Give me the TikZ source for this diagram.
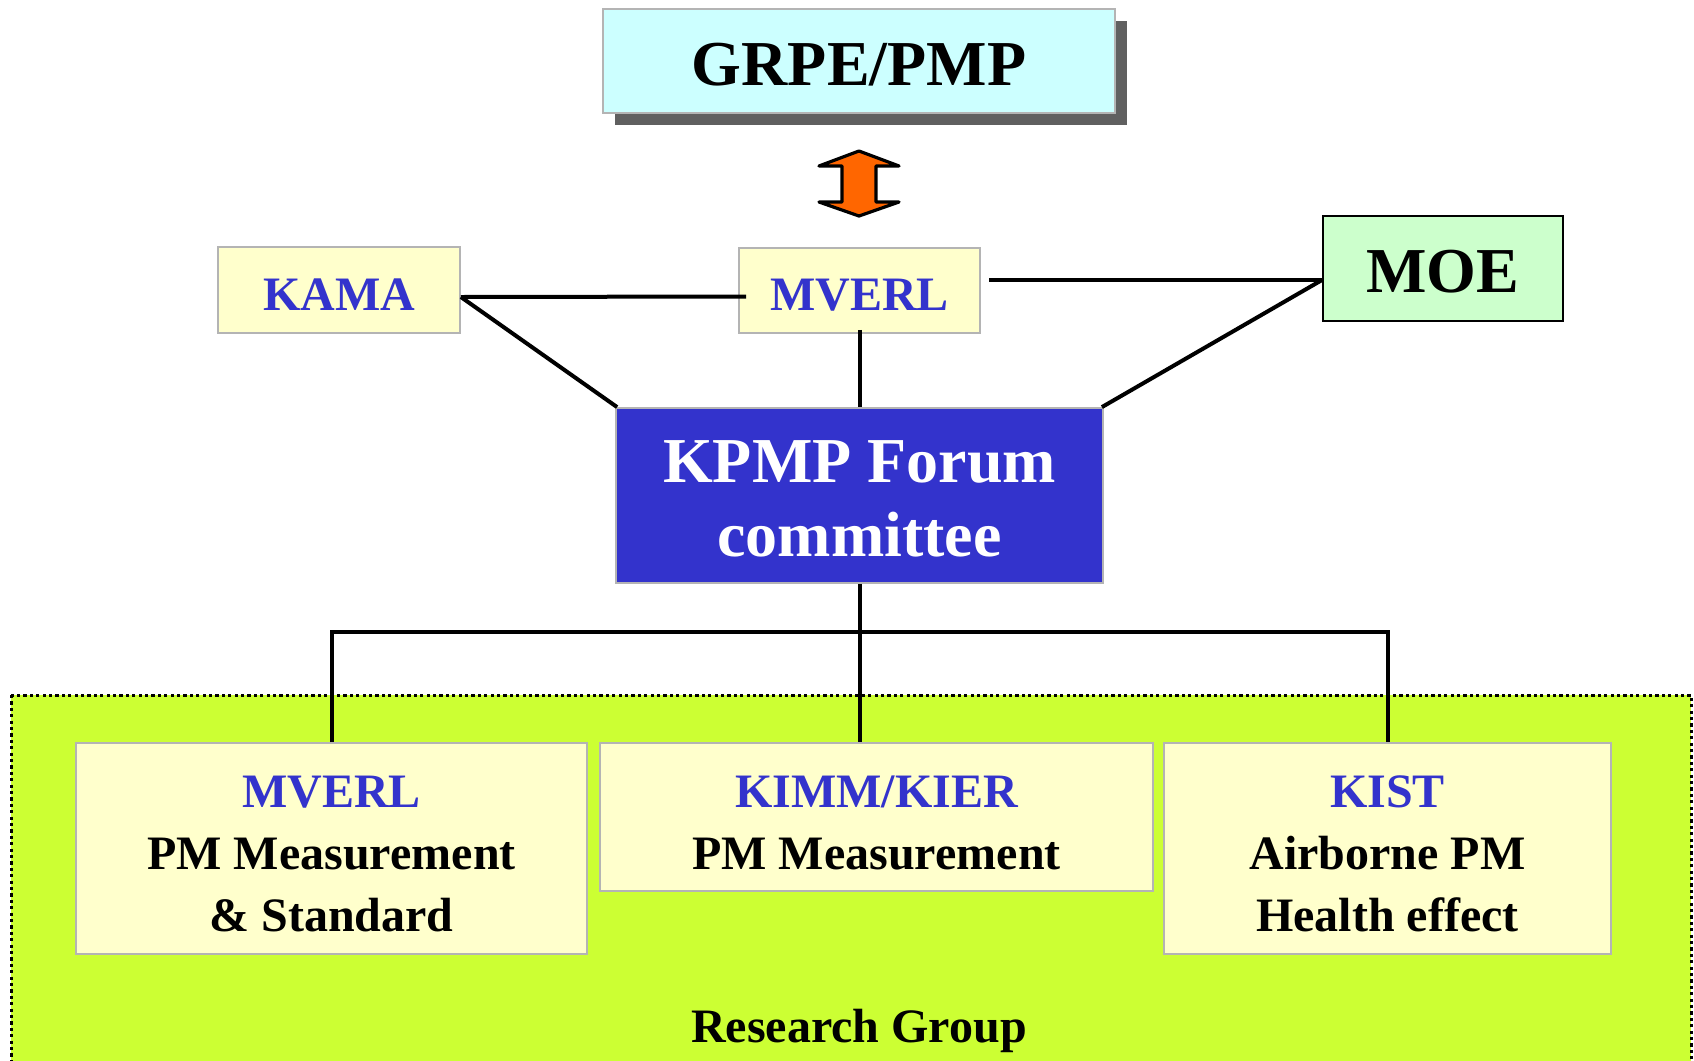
\documentclass[tikz,border=0pt]{standalone}
\usepackage{fontspec}
\setmainfont{Liberation Serif}
\usetikzlibrary{shadows}
\definecolor{cyanbox}{HTML}{CCFFFF}
\definecolor{ylbox}{HTML}{FFFFCC}
\definecolor{grbox}{HTML}{CCFFCC}
\definecolor{limebg}{HTML}{CCFF33}
\definecolor{bluebox}{HTML}{3333CC}
\definecolor{bluetxt}{HTML}{3333CC}
\definecolor{orangearr}{HTML}{FF6600}
\definecolor{bordergray}{HTML}{B4B4B4}
\definecolor{shadowgray}{HTML}{606060}
% lower a first line by half of #1 inside a centred node
\newcommand{\lowerfirst}[2]{\raisebox{0pt}[\dimexpr\height+#1\relax]{#2}}
\begin{document}
\begin{tikzpicture}[x=0.5pt,y=-0.5pt,
  boxbase/.style={rectangle,inner sep=0pt,align=center,draw=bordergray,line width=0.9pt},
  bigfont/.style={font=\fontsize{32}{37}\selectfont\bfseries},
  smallfont/.style={font=\fontsize{24}{31}\selectfont\bfseries},
  conn/.style={line width=2pt,black},
  bluet/.style={text=bluetxt}]
\clip (0,0) rectangle (1694,1061);
\fill[white] (0,0) rectangle (1694,1061);

% research group background
\draw[fill=limebg,line width=1.5pt,dash pattern=on 1.6pt off 1.6pt] (11,695) rectangle (1691,1090);

% top box with shadow
\node[boxbase,bigfont,fill=cyanbox,minimum width=256pt,minimum height=52pt,
  drop shadow={shadow xshift=6pt,shadow yshift=-6pt,fill=shadowgray,opacity=1}]
  (grpe) at (859,61) {\lowerfirst{4pt}{GRPE/PMP}};

% double arrow
\draw[fill=orangearr,line width=1.6pt,line join=round]
  (859,151) -- (899,166) -- (876,166) -- (876,202) -- (899,202) -- (859,216)
  -- (819,202) -- (842,202) -- (842,166) -- (819,166) -- cycle;

% second row
\node[boxbase,smallfont,bluet,fill=ylbox,minimum width=121pt,minimum height=43pt] (kama) at (339,290) {\lowerfirst{4.5pt}{KAMA}};
\node[boxbase,smallfont,bluet,fill=ylbox,minimum width=120.5pt,minimum height=42.5pt] (mverlt) at (859.5,290.5) {\lowerfirst{4.5pt}{MVERL}};
\node[boxbase,bigfont,fill=grbox,draw=black,line width=1pt,minimum width=120pt,minimum height=52.5pt] (moe) at (1443,268.5) {\lowerfirst{3.5pt}{MOE}};

% forum committee
\node[boxbase,bigfont,text=white,fill=bluebox,minimum width=243.5pt,minimum height=87.5pt] (kpmp) at (859.5,495.5) {\lowerfirst{3pt}{KPMP Forum}\\committee};

% bottom boxes
\node[boxbase,smallfont,fill=ylbox,minimum width=255.5pt,minimum height=105.5pt] (left) at (331.5,848.5)
  {\lowerfirst{5.5pt}{\textcolor{bluetxt}{MVERL}}\\PM Measurement\\\& Standard};
\node[boxbase,smallfont,fill=ylbox,minimum width=276.5pt,minimum height=74pt] (mid) at (876.5,817)
  {\lowerfirst{5.5pt}{\textcolor{bluetxt}{KIMM/KIER}}\\PM Measurement};
\node[boxbase,smallfont,fill=ylbox,minimum width=223.5pt,minimum height=105.5pt] (right) at (1387.5,848.5)
  {\lowerfirst{5.5pt}{\textcolor{bluetxt}{KIST}}\\Airborne PM\\Health effect};

\node[smallfont,anchor=base] (rg) at (859,1042) {Research Group};

% connectors
\draw[conn] ([yshift=-3.5pt]kama.east) -- ([yshift=-3pt,xshift=4pt]mverlt.west);
\draw[conn] ([yshift=-3.5pt]kama.east) -- ([xshift=1pt]kpmp.north west);
\draw[conn] ([yshift=2pt]mverlt.south) -- (kpmp.north);
\draw[conn] ([yshift=-5.75pt]moe.west) -- ([xshift=4pt,yshift=-5.75pt]moe.west -| mverlt.east);
\draw[conn] ([yshift=-5.75pt]moe.west) -- ([xshift=-1pt]kpmp.north east);
\coordinate (bus) at (859,632);
\draw[conn] (kpmp.south) -- (kpmp.south |- mid.north);
\draw[conn] (left.north) |- (bus) -| (right.north);
\end{tikzpicture}
\end{document}
